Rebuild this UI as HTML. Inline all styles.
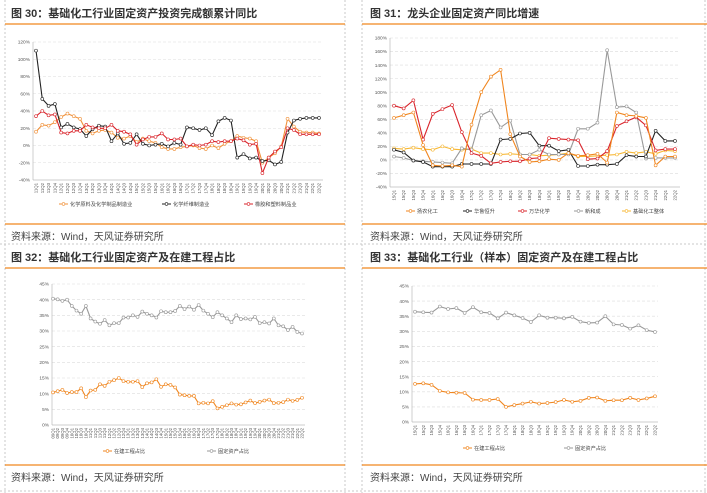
<!DOCTYPE html>
<html><head><meta charset="utf-8"><style>
html,body{margin:0;padding:0;background:#fff}
svg{display:block;font-family:"Liberation Sans","Noto Sans CJK SC",sans-serif}
</style></head><body>
<svg id="s" width="707" height="493" viewBox="0 0 707 493">
<g stroke="#c8c8c8" stroke-dasharray="2,2" fill="none">
<line x1="5" y1="0" x2="5" y2="493"/><line x1="345" y1="0" x2="345" y2="493"/>
<line x1="362" y1="0" x2="362" y2="493"/><line x1="705" y1="0" x2="705" y2="493"/>
<line x1="0" y1="244" x2="707" y2="244"/><line x1="0" y1="491" x2="707" y2="491"/>
</g>
<g>
<text x="11" y="17" font-size="11" font-weight="bold" fill="#333">图 30：基础化工行业固定资产投资完成额累计同比</text>
<line x1="5" y1="24" x2="345" y2="24" stroke="#f0861f" stroke-width="1.2"/>
<line x1="5" y1="224" x2="345" y2="224" stroke="#f0861f" stroke-width="1.2"/>
<text x="11" y="240" font-size="10" fill="#444">资料来源：Wind，天风证券研究所</text>
</g>
<g>
<text x="370" y="17" font-size="11" font-weight="bold" fill="#333">图 31：龙头企业固定资产同比增速</text>
<line x1="362" y1="24" x2="707" y2="24" stroke="#f0861f" stroke-width="1.2"/>
<line x1="362" y1="224" x2="707" y2="224" stroke="#f0861f" stroke-width="1.2"/>
<text x="370" y="240" font-size="10" fill="#444">资料来源：Wind，天风证券研究所</text>
</g>
<g>
<text x="11" y="261" font-size="11" font-weight="bold" fill="#333">图 32：基础化工行业固定资产及在建工程占比</text>
<line x1="5" y1="268" x2="345" y2="268" stroke="#f0861f" stroke-width="1.2"/>
<line x1="5" y1="465" x2="345" y2="465" stroke="#f0861f" stroke-width="1.2"/>
<text x="11" y="481" font-size="10" fill="#444">资料来源：Wind，天风证券研究所</text>
</g>
<g>
<text x="370" y="261" font-size="11" font-weight="bold" fill="#333">图 33：基础化工行业（样本）固定资产及在建工程占比</text>
<line x1="362" y1="268" x2="707" y2="268" stroke="#f0861f" stroke-width="1.2"/>
<line x1="362" y1="465" x2="707" y2="465" stroke="#f0861f" stroke-width="1.2"/>
<text x="370" y="481" font-size="10" fill="#444">资料来源：Wind，天风证券研究所</text>
</g>
</svg>
<script>
function quarters(y0,q0,n){var a=[],y=y0,q=q0;for(var i=0;i<n;i++){a.push((y<10?'0':'')+y+'Q'+q);q++;if(q>4){q=1;y++;}}return a;}
// Chart 30
var c30Cats = quarters(11,1,46);
var c30Ticks = [-40,-20,0,20,40,60,80,100,120];
var c30Chem = [16,24,23,27,33,37,34,31,17,14,17,18,15,9,8,11,4,8,5,3,-2,-4,-4,-2,-1,0,-3,-4,0,-3,2,5,11,9,8,5,-20,-14,-9,-1,31,22,16,15,15,14];
var c30Fiber = [110,54,46,48,21,25,21,19,11,19,23,22,5,14,2,3,13,2,0,1,2,-1,3,1,21,20,18,20,12,28,32,29,-14,-10,-15,-14,-18,-17,-22,-19,15,29,31,32,32,32];
var c30Rubber = [34,40,35,36,15,14,17,17,24,21,20,20,24,17,16,13,1,7,10,10,14,7,7,8,-1,1,0,1,5,4,5,5,8,6,1,2,-32,-14,-7,-2,20,18,13,13,13,13];
// Chart 31
var c31Cats = quarters(15,1,30);
var c31Ticks = [-40,-20,0,20,40,60,80,100,120,140,160,180];
var c31Yangnong = [62,66,70,22,-8,-9,-8,-10,52,100,123,133,38,5,-3,-2,1,0,10,6,7,9,-4,70,66,65,62,-8,5,5];
var c31Hualu = [15,11,-1,-3,-10,-10,-10,-6,-6,-6,-6,30,31,39,40,21,21,13,15,-9,-9,-7,-7,-6,7,5,5,43,28,28];
var c31Wanhua = [80,76,88,30,68,75,81,41,10,6,-5,-3,-2,-2,2,3,32,31,30,29,1,2,13,50,57,63,51,14,16,16];
var c31Nhu = [5,3,-1,-2,-3,-4,-5,17,15,66,73,48,58,8,8,15,8,8,8,46,46,55,162,78,79,70,2,3,3,3];
var c31Industry = [17,16,18,16,15,20,16,15,16,10,10,8,9,8,8,6,7,8,10,5,5,6,7,8,12,10,12,9,14,13];
// Chart 32
var c32Cats = quarters(9,1,54);
var c32Ticks = [0,5,10,15,20,25,30,35,40,45];
var c32Cip = [10.4,10.8,11.2,10.2,10.5,10.5,11.7,8.9,11.0,11.2,13.0,12.5,13.8,14.3,15.0,14.0,13.8,13.8,14.0,12.1,13.3,13.6,14.6,12.2,13.0,12.8,12.0,9.7,9.5,9.3,9.3,6.9,7.1,6.9,7.6,5.3,5.8,6.3,6.9,6.5,6.6,7.2,7.8,7.0,7.4,7.8,8.1,7.0,7.1,7.3,8.1,7.7,8.0,8.7];
var c32Fixed = [40.3,40.1,39.6,40.0,38.0,36.5,35.5,38.0,34.0,33.0,32.3,33.5,31.8,32.5,32.5,34.3,34.3,35.0,34.5,36.2,35.5,35.0,34.3,36.3,36.0,36.0,36.4,38.0,37.0,37.8,36.8,38.3,36.5,35.5,34.4,36.0,35.0,34.0,32.8,35.0,33.8,34.0,33.7,34.5,32.5,32.8,32.4,34.0,31.8,31.5,30.3,31.3,29.7,29.2];
// Chart 33
var c33Cats = quarters(15,1,30);
var c33Ticks = [0,5,10,15,20,25,30,35,40,45];
var c33Cip = [12.6,12.8,12.3,10.3,9.8,9.7,9.6,7.4,7.3,7.3,7.6,5.0,5.6,6.1,6.7,6.1,6.3,6.6,7.3,6.7,7.0,8.0,8.1,7.0,7.2,7.2,8.0,7.3,7.8,8.5];
var c33Fixed = [36.5,36.3,36.2,38.2,37.4,37.7,36.1,38.0,36.3,36.1,34.3,36.2,35.3,34.4,33.1,35.3,34.5,34.5,34.3,34.8,33.2,32.8,32.9,35.0,32.3,32.1,30.9,32.0,30.4,29.8];

var NS='http://www.w3.org/2000/svg', svg=document.getElementById('s');
function mk(tag,attrs,parent){var e=document.createElementNS(NS,tag);for(var k in attrs)e.setAttribute(k,attrs[k]);(parent||svg).appendChild(e);return e;}

function drawChart(id,cats,ticks,series,geo){
  var g=mk('g',{});
  
  
  var tmin=ticks[0],tmax=ticks[ticks.length-1];
  function yS(v){return geo.yBot-(v-tmin)*(geo.yBot-geo.yTop)/(tmax-tmin);}
  function xS(i){return geo.x0+i*(geo.x1-geo.x0)/(cats.length-1);}
  ticks.forEach(function(t){
    var y=yS(t);
    if(t!==tmin){var gl=mk('line',{x1:geo.axisX,x2:geo.right,y1:y,y2:y,stroke:'#dcdcdc','stroke-width':0.6,'stroke-dasharray':'3,2'},g);
    
    }
    var tl=mk('text',{x:geo.axisX-3,y:y+1.7,'font-size':4.8,'text-anchor':'end',fill:'#555'},g);
    tl.textContent=t+'%';
    
    
  });
  var ax=mk('line',{x1:geo.axisX,x2:geo.axisX,y1:geo.yTop,y2:geo.yBot,stroke:'#bbb','stroke-width':0.7},g);
  
  
  var xa=mk('line',{x1:geo.axisX,x2:geo.right,y1:geo.yBot,y2:geo.yBot,stroke:'#bbb','stroke-width':0.7},g);
  
  
  cats.forEach(function(c,i){
    var x=xS(i);
    var t=mk('text',{x:0,y:0,'font-size':4.3,'text-anchor':'end',fill:'#555',transform:'translate('+(x+1.5)+','+(geo.yBot+3)+') rotate(-90)'},g);
    t.textContent=c;
    
    
  });
  series.forEach(function(s){
    var d=s.data.map(function(v,i){return (i?'L':'M')+xS(i).toFixed(1)+','+yS(v).toFixed(1);}).join('');
    var p=mk('path',{d:d,fill:'none',stroke:s.color,'stroke-width':1.1},g);
    
    
    s.data.forEach(function(v,i){
      var m=mk('circle',{cx:xS(i),cy:yS(v),r:1.5,fill:'#fff',stroke:s.color,'stroke-width':0.6},g);
      
      
    });
    var lx=s.lx, ly=geo.legY;
    var ll=mk('line',{x1:lx,x2:lx+9,y1:ly,y2:ly,stroke:s.color,'stroke-width':1},g);
    
    
    mk('circle',{cx:lx+4.5,cy:ly,r:1.4,fill:'#fff',stroke:s.color,'stroke-width':0.6},g);
    var lt=mk('text',{x:lx+11,y:ly+1.8,'font-size':5.2,fill:'#444'},g);
    lt.textContent=s.name;
    
    
  });
}
drawChart('chart-30',c30Cats,c30Ticks,[
 {key:'chem',name:'化学原料及化学制品制造业',color:'#f0913a',data:c30Chem,lx:59},
 {key:'fiber',name:'化学纤维制造业',color:'#222',data:c30Fiber,lx:162},
 {key:'rubber',name:'橡胶和塑料制品业',color:'#d9232a',data:c30Rubber,lx:244}
],{x0:36,x1:319,axisX:33,right:323,yTop:42,yBot:180,legY:204});
drawChart('chart-31',c31Cats,c31Ticks,[
 {key:'industry',name:'基础化工整体',color:'#f7b733',data:c31Industry,lx:622},
 {key:'nhu',name:'新和成',color:'#999',data:c31Nhu,lx:574},
 {key:'hualu',name:'华鲁恒升',color:'#222',data:c31Hualu,lx:463},
 {key:'wanhua',name:'万华化学',color:'#d9232a',data:c31Wanhua,lx:518},
 {key:'yangnong',name:'扬农化工',color:'#f0861f',data:c31Yangnong,lx:406}
],{x0:394,x1:675,axisX:390,right:680,yTop:38,yBot:187,legY:211});
drawChart('chart-32',c32Cats,c32Ticks,[
 {key:'cip',name:'在建工程占比',color:'#f0861f',data:c32Cip,lx:103},
 {key:'fixed',name:'固定资产占比',color:'#999',data:c32Fixed,lx:207}
],{x0:53,x1:302,axisX:52,right:305,yTop:284,yBot:425,legY:451});
drawChart('chart-33',c33Cats,c33Ticks,[
 {key:'cip',name:'在建工程占比',color:'#f0861f',data:c33Cip,lx:463},
 {key:'fixed',name:'固定资产占比',color:'#999',data:c33Fixed,lx:564}
],{x0:415,x1:655,axisX:412,right:658,yTop:286,yBot:422,legY:448});
</script>
</body></html>
